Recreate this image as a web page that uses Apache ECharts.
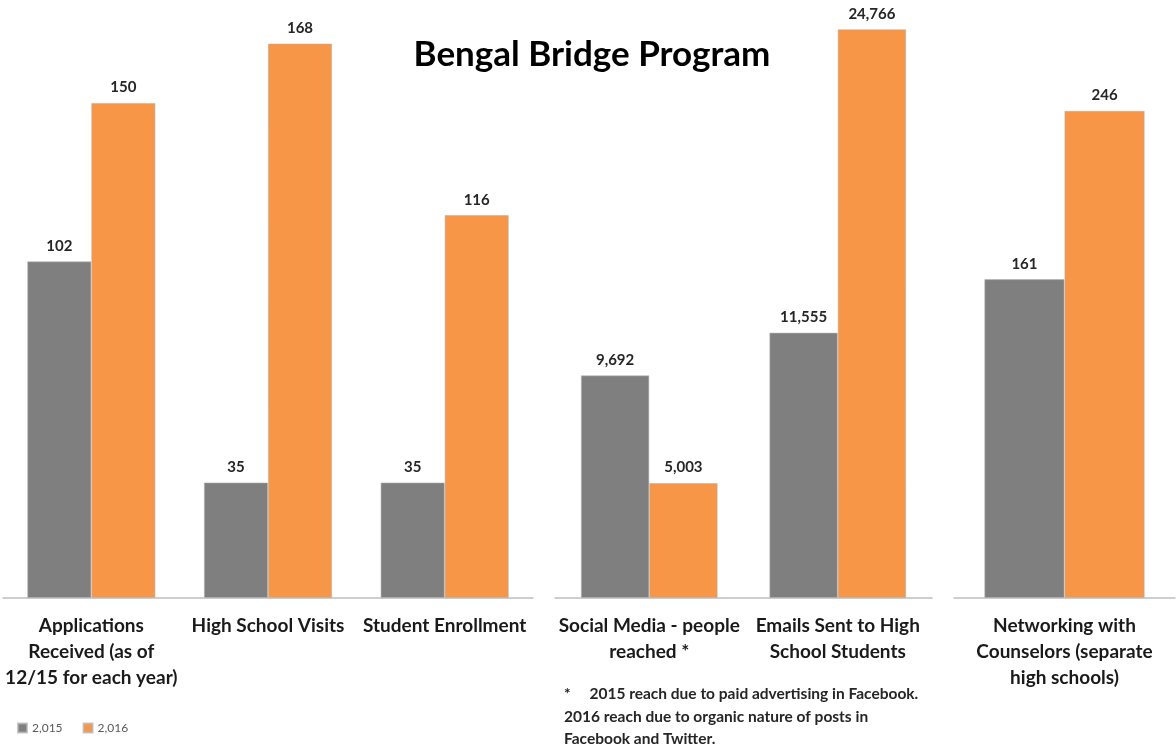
<!DOCTYPE html>
<html>
<head>
<meta charset="utf-8">
<script src="https://cdn.jsdelivr.net/npm/echarts@6/dist/echarts.min.js"></script>
<style>
  html, body { margin: 0; padding: 0; background: #fff; }
  #chart { width: 1176px; height: 746px; }
</style>
</head>
<body>
<div id="chart"></div>
<script>
// Outreach categories, split into three panels with their own scales
const enrollmentCategories = ['Applications\nReceived (as of\n12/15 for each year)', 'High School Visits', 'Student Enrollment'];
const enrollment2015 = [102, 35, 35];
const enrollment2016 = [150, 168, 116];

const outreachCategories = ['Social Media - people\nreached *', 'Emails Sent to High\nSchool Students'];
const outreach2015 = [9692, 11555];
const outreach2016 = [5003, 24766];

const networkingCategories = ['Networking with\nCounselors (separate\nhigh schools)'];
const networking2015 = [161];
const networking2016 = [246];

const seriesNames = ['2,015', '2,016'];
const footnoteLines = [
  '*     2015 reach due to paid advertising in Facebook.',
  '2016 reach due to organic nature of posts in',
  'Facebook and Twitter.'
];

const FONT = 'Lato, "Open Sans", sans-serif';
const GRAY = '#7f7f7f';
const ORANGE = '#f79646';

const chart = echarts.init(document.getElementById('chart'));

const panels = [
  { cats: enrollmentCategories, a: enrollment2015, b: enrollment2016, left: 3, width: 530, top: 4, max: 180 },
  { cats: outreachCategories, a: outreach2015, b: outreach2016, left: 555, width: 377, top: 24, max: 25000 },
  { cats: networkingCategories, a: networking2015, b: networking2016, left: 954, width: 221, top: 4, max: 300 }
];

const valueLabel = {
  show: true,
  position: 'top',
  distance: 8,
  fontFamily: FONT,
  fontWeight: 'bold',
  fontSize: 15,
  color: '#262626',
  formatter: p => p.value.toLocaleString('en-US')
};

const grids = [], xAxes = [], yAxes = [], series = [];
panels.forEach((p, i) => {
  grids.push({ left: p.left, width: p.width, top: p.top, bottom: 148 });
  xAxes.push({
    type: 'category',
    gridIndex: i,
    data: p.cats,
    axisLine: { lineStyle: { color: '#bfbfbf', width: 1.5 } },
    axisTick: { show: false },
    axisLabel: {
      interval: 0,
      margin: 15,
      fontFamily: FONT,
      fontWeight: 'bold',
      fontSize: 19,
      lineHeight: 26,
      color: '#1a1a1a',
      align: 'center',
      verticalAlign: 'top'
    }
  });
  yAxes.push({ type: 'value', gridIndex: i, min: 0, max: p.max, show: false, splitLine: { show: false } });
  [p.a, p.b].forEach((vals, k) => {
    series.push({
      name: seriesNames[k],
      type: 'bar',
      xAxisIndex: i,
      yAxisIndex: i,
      data: vals,
      barGap: '0%',
      barCategoryGap: '27.5%',
      itemStyle: { color: k === 0 ? GRAY : ORANGE, borderColor: 'rgba(180,180,180,0.7)', borderWidth: 0.8 },
      label: valueLabel,
      emphasis: { disabled: true }
    });
  });
});

chart.setOption({
  animation: false,
  title: {
    text: 'Bengal Bridge Program',
    left: 587,
    top: 32,
    textAlign: 'center',
    textStyle: { fontFamily: FONT, fontWeight: 'bold', fontSize: 35, color: '#000' }
  },
  legend: {
    data: seriesNames,
    left: 12,
    top: 717,
    icon: 'rect',
    itemWidth: 9,
    itemHeight: 9,
    itemGap: 20,
    textStyle: { fontFamily: FONT, fontSize: 12, color: '#595959' }
  },
  grid: grids,
  xAxis: xAxes,
  yAxis: yAxes,
  series: series,
  graphic: [{
    type: 'text',
    left: 564,
    top: 683,
    style: {
      text: footnoteLines.join('\n'),
      fontFamily: FONT,
      fontWeight: 'bold',
      fontSize: 15.5,
      lineHeight: 22.5,
      fill: '#262626'
    }
  }]
});
</script>
</body>
</html>
